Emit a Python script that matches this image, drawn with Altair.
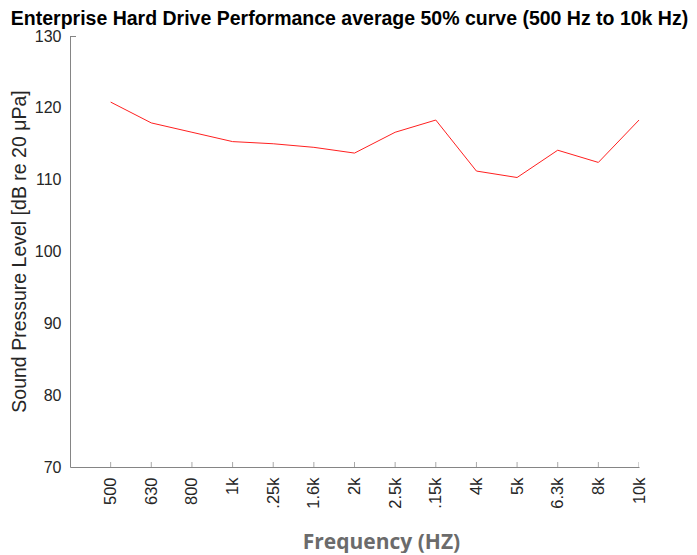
import altair as alt
import pandas as pd

freq_labels = ["500", "630", "800", "1k", ".25k", "1.6k", "2k", "2.5k", ".15k", "4k", "5k", "6.3k", "8k", "10k"]
spl_values = [120.8, 117.9, 116.6, 115.3, 115.0, 114.5, 113.7, 116.6, 118.3, 111.2, 110.3, 114.1, 112.4, 118.3]
positions = list(range(1, 15))
y_ticks = [70, 80, 90, 100, 110, 120, 130]

df = pd.DataFrame({"pos": positions, "label": freq_labels, "spl": spl_values})

label_expr = "[" + ",".join("'%s'" % l for l in freq_labels) + "][datum.value - 1]"

FONT = "Liberation Sans, Arial, sans-serif"
XTITLE_FONT = "Open Sans, Liberation Sans, sans-serif"
AXIS_GRAY = "#858585"
TEXT = "#262626"

x_enc = alt.X(
    "pos:Q",
    scale=alt.Scale(domain=[0, 14], nice=False, zero=False),
    axis=alt.Axis(
        values=positions, labelExpr=label_expr, labelAngle=270,
        labelFont=FONT, labelFontSize=16.5, labelColor=TEXT, labelPadding=10,
        ticks=False, grid=False, domainColor=AXIS_GRAY, domainWidth=1,
        title="Frequency (HZ)", titleFont=XTITLE_FONT, titleFontWeight="bold",
        titleFontSize=21, titleColor="#6b6b6b", titleX=311, titleY=81,
        titleAlign="center", titleBaseline="alphabetic",
    ),
)
y_enc = alt.Y(
    "spl:Q",
    scale=alt.Scale(domain=[70, 130], nice=False, zero=False),
    axis=alt.Axis(
        values=y_ticks, labelFont=FONT, labelFontSize=16, labelColor=TEXT,
        labelPadding=9, ticks=False, grid=False, domainColor=AXIS_GRAY, domainWidth=1,
        title="Sound Pressure Level [dB re 20  \u03bcPa]", titleFont=FONT, titleFontWeight="normal",
        titleFontSize=19.5, titleColor=TEXT, titleAngle=270, titleX=-51, titleY=215,
        titleAlign="center", titleBaseline="middle",
    ),
)

line = alt.Chart(df).mark_line(color="#ff2020", strokeWidth=1).encode(x=x_enc, y=y_enc)

xticks = alt.Chart(df).mark_tick(orient="vertical", size=10, thickness=1, color=AXIS_GRAY, clip=True).encode(
    x=alt.X("pos:Q"), y=alt.datum(70)
)
ytop = alt.Chart(df).mark_tick(orient="horizontal", size=12, thickness=1, color=AXIS_GRAY, clip=True).encode(
    x=alt.datum(0), y=alt.datum(130)
)

chart = (
    alt.layer(line, xticks, ytop)
    .properties(
        width=569, height=431,
        autosize="none",
        padding={"left": 62, "top": 28, "right": 50, "bottom": 86},
        title=alt.TitleParams(
            "Enterprise Hard Drive Performance average 50% curve (500 Hz to 10k Hz)",
            font=FONT, fontSize=19.5, fontWeight="bold", color="#000000",
            anchor="middle", baseline="alphabetic", offset=8, dx=-5, dy=24,
        ),
    )
    .configure_view(stroke=None)
)

chart.save("out.html", embed_options={"renderer": "svg", "actions": False})
